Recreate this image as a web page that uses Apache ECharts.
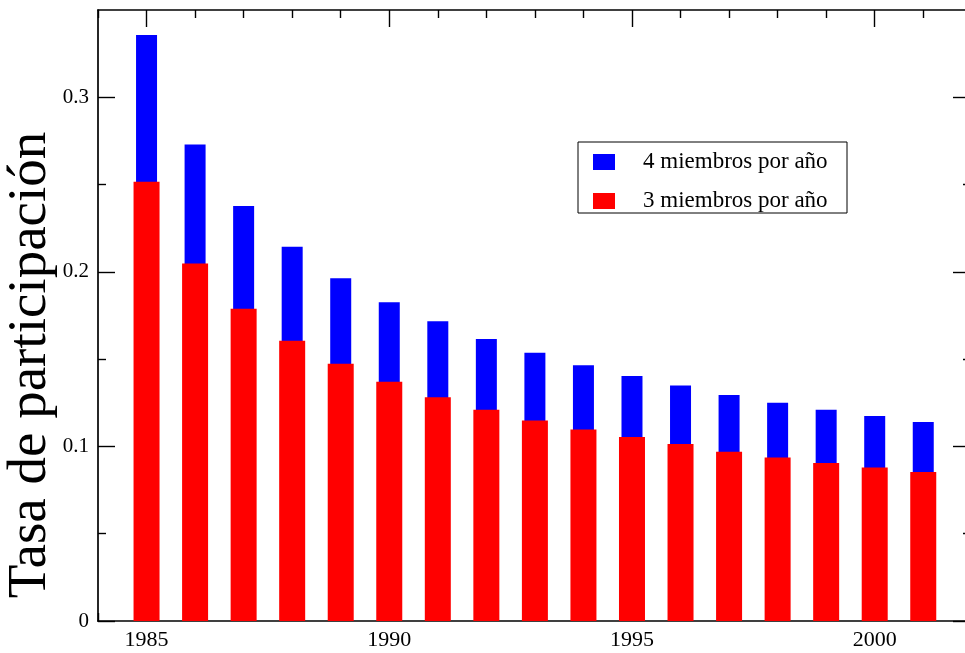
<!DOCTYPE html>
<html>
<head>
<meta charset="utf-8">
<script src="https://cdn.jsdelivr.net/npm/echarts@6/dist/echarts.min.js"></script>
<style>
  html, body { margin: 0; padding: 0; background: #fff; }
  #chart { width: 965px; height: 653px; }
</style>
</head>
<body>
<div id="chart"></div>
<script>
// Participation rate per year, for committees of 4 and of 3 members per year
const years = [1985, 1986, 1987, 1988, 1989, 1990, 1991, 1992, 1993,
               1994, 1995, 1996, 1997, 1998, 1999, 2000, 2001];
const members4 = [0.3357, 0.2730, 0.2377, 0.2144, 0.1964, 0.1826, 0.1717, 0.1616, 0.1536,
                  0.1465, 0.1404, 0.1349, 0.1295, 0.1250, 0.1210, 0.1174, 0.1140];
const members3 = [0.2516, 0.2048, 0.1788, 0.1606, 0.1474, 0.1371, 0.1281, 0.1210, 0.1149,
                  0.1097, 0.1054, 0.1014, 0.0969, 0.0937, 0.0905, 0.0879, 0.0853];

const seriesNames = ['4 miembros por año', '3 miembros por año'];
const yTitle = 'Tasa de participación';

// Tick positions and labels
const xMajorTicks = [1985, 1990, 1995, 2000];
const xMinorTicks = [1984, 1986, 1987, 1988, 1989, 1991, 1992, 1993, 1994,
                     1996, 1997, 1998, 1999, 2001];
const yMajorTicks = [0, 0.1, 0.2, 0.3];
const yTickLabels = ['0', '0.1', '0.2', '0.3'];
const yMinorTicks = [0.05, 0.15, 0.25];

const FONT = '"Liberation Serif", "DejaVu Serif", serif';
// The frame runs past the right edge of the canvas, so the visible x range ends just short of 2002
const X_MIN = 1984, X_MAX = 2001.86, Y_MIN = 0, Y_MAX = 0.35;

const chart = echarts.init(document.getElementById('chart'), null, { renderer: 'canvas' });

const lineStyle = { color: '#000', width: 1.7 };
const tickStyle = { color: '#000', width: 1.4 };

function xAxisDef(position, major, showLine, showLabel) {
  return {
    type: 'value', position: position, min: X_MIN, max: X_MAX,
    splitLine: { show: false },
    axisLine: { show: showLine, onZero: false, lineStyle: lineStyle },
    axisTick: {
      show: true, inside: true, length: major ? 17 : 8,
      customValues: major ? xMajorTicks : xMinorTicks,
      lineStyle: tickStyle
    },
    axisLabel: {
      show: showLabel, customValues: xMajorTicks, margin: 8,
      fontFamily: FONT, fontSize: 22, color: '#000',
      formatter: v => String(v)
    }
  };
}

function yAxisDef(position, tickLen, ticks, showLine, showLabel) {
  return {
    type: 'value', position: position, min: Y_MIN, max: Y_MAX,
    splitLine: { show: false },
    axisLine: { show: showLine, onZero: false, lineStyle: lineStyle },
    axisTick: {
      show: true, inside: true, length: tickLen,
      customValues: ticks,
      lineStyle: tickStyle
    },
    axisLabel: {
      show: showLabel, customValues: yMajorTicks, margin: 9,
      fontFamily: FONT, fontSize: 21, color: '#000',
      formatter: v => yTickLabels[yMajorTicks.findIndex(t => Math.abs(t - v) < 1e-9)]
    }
  };
}

const option = {
  backgroundColor: '#fff',
  animation: false,
  grid: { left: 98, top: 10, right: 0, bottom: 32, containLabel: false },
  xAxis: [
    xAxisDef('bottom', true, true, true),
    xAxisDef('top', true, true, false),
    xAxisDef('bottom', false, false, false),
    xAxisDef('top', false, false, false)
  ],
  yAxis: [
    yAxisDef('left', 17, yMajorTicks, true, true),
    yAxisDef('right', 12, yMajorTicks, false, false),
    yAxisDef('left', 8, yMinorTicks, false, false),
    yAxisDef('right', 2, yMinorTicks, false, false)
  ],
  legend: {
    orient: 'vertical', left: 578, top: 142,
    padding: [8, 9, 0, 15], itemGap: 15,
    itemWidth: 22, itemHeight: 16,
    borderColor: '#000', borderWidth: 1, backgroundColor: '#fff',
    icon: 'rect',
    textStyle: {
      fontFamily: FONT, fontSize: 23, color: '#000',
      lineHeight: 24, width: 195, padding: [0, 0, 0, 23]
    },
    data: seriesNames
  },
  // Rotated axis title, centred on its anchor point
  graphic: [{
    type: 'text',
    x: 31, y: 365, rotation: Math.PI / 2,
    style: {
      text: yTitle, font: '55px ' + FONT, fill: '#000',
      align: 'center', verticalAlign: 'middle'
    }
  }],
  series: [
    {
      name: seriesNames[0], type: 'bar', xAxisIndex: 1, yAxisIndex: 0,
      barWidth: 21, itemStyle: { color: '#0000ff' }, z: 2,
      data: years.map((y, i) => [y, members4[i]])
    },
    {
      name: seriesNames[1], type: 'bar', xAxisIndex: 0, yAxisIndex: 0,
      barWidth: 26, itemStyle: { color: '#ff0000' }, z: 3,
      data: years.map((y, i) => [y, members3[i]])
    }
  ]
};

chart.setOption(option);
</script>
</body>
</html>
